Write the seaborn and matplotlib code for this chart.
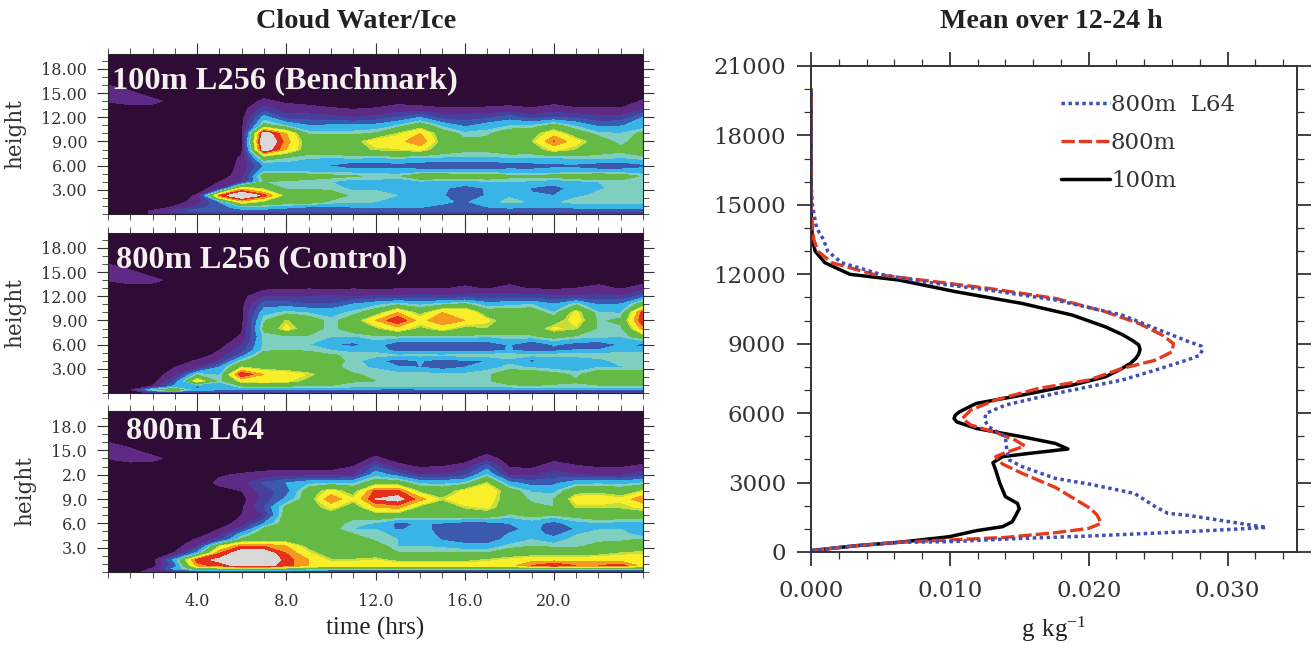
import numpy as np
import seaborn as sns
import matplotlib.pyplot as plt
from matplotlib.colors import ListedColormap, BoundaryNorm
from matplotlib.ticker import MultipleLocator

# contour panels: band index at each hour / height
hours = list(range(25))
heights = [0, 0.4, 0.8, 1.5, 2.3, 3.2, 4, 4.7, 5.3, 6, 7, 8, 9, 10, 11, 12, 13, 14, 15, 16, 20]

bench = [
    [0, 0, .6, 1, 1, 1, 1, 1, 1, 1, 1, 1, 1, 1, 1, 1, 1, 1, 1, 1, 1, 1, 1, 1, 1],
    [0, 0, .6, 2, 3, 3, 3, 3, 3, 3, 3, 3, 3, 3, 3, 3, 3, 3, 3, 3, 3, 3, 3, 3, 3],
    [0, 0, 0, .7, 2, 3, 4, 4, 3.6, 3.2, 3, 3.4, 3.5, 3.5, 3.5, 3.2, 3, 3.4, 3.6, 3.5, 3.5, 3.6, 3.6, 3.6, 3.6],
    [0, 0, 0, 0, 1, 3.5, 8, 6.5, 6, 5.8, 5, 4.8, 4.6, 4.5, 4.5, 3.7, 3.3, 4.3, 4.8, 4.5, 4.4, 5, 5, 5, 5],
    [0, 0, 0, 0, .6, 9.5, 12.5, 10, 6.3, 6.6, 5.8, 5, 4.8, 4.6, 4.5, 3.6, 2.8, 3.6, 4.5, 3.6, 3.5, 4.4, 4.8, 4.9, 5],
    [0, 0, 0, 0, 0, 1, 8, 6.5, 5, 5, 4.9, 4.4, 4.5, 4.5, 4.4, 3.7, 3, 3.6, 4.5, 3.4, 3, 4, 4.5, 4.8, 4.8],
    [0, 0, 0, 0, 0, .5, 1.5, 5.2, 5, 4.8, 4.6, 4, 4.3, 4, 4.4, 4, 4.2, 4.5, 4.6, 4.4, 4, 4.3, 4.6, 4.8, 4.8],
    [0, 0, 0, 0, 0, 0, 1, 6, 6, 5.8, 5.5, 5.3, 5, 5, 6.2, 6.3, 5.8, 6, 5.5, 5.5, 5.6, 6, 6.2, 6, 5],
    [0, 0, 0, 0, 0, 0, .8, 4.5, 4.6, 4.4, 4.3, 4.2, 4.2, 4, 4, 4, 4, 4, 4, 3.8, 4, 4, 4, 4, 4],
    [0, 0, 0, 0, 0, 0, .7, 3.6, 4, 3.8, 3.4, 2.6, 2.6, 3, 2.7, 2.6, 2.4, 2.5, 2.8, 3, 3.2, 3.2, 2.7, 2.7, 3.2],
    [0, 0, 0, 0, 0, 0, .6, 6, 5.2, 4.7, 4.6, 4.8, 4.6, 4.8, 4.5, 4.5, 4.4, 4.4, 4.6, 4.5, 4.6, 4.8, 5, 4.6, 5],
    [0, 0, 0, 0, 0, 0, .3, 11.5, 8.5, 6, 6, 6.5, 7, 7.2, 7.6, 6, 5.5, 5.5, 6, 6, 7.6, 6.8, 5.5, 5.5, 6],
    [0, 0, 0, 0, 0, 0, .2, 12.5, 9, 6, 6.8, 6.2, 8, 8, 9.5, 6.2, 5.5, 5.5, 6.2, 6.8, 9.6, 7.7, 6, 4.8, 6],
    [0, 0, 0, 0, 0, 0, .2, 11.5, 8.5, 5, 5, 5, 5.3, 7, 8.5, 6, 4.8, 5, 6, 6.2, 8, 6, 4.8, 4.6, 5.5],
    [0, 0, 0, 0, 0, 0, .2, 5.6, 4.5, 3.5, 3.6, 3.6, 3.8, 4.6, 6, 4.3, 3.2, 4, 4.5, 4.6, 5.6, 4.4, 3.2, 3.4, 4],
    [0, 0, 0, 0, 0, 0, .1, 4, 2, 2, 1.8, 1.5, 1.8, 2.5, 3.5, 2, 2, 2.2, 3, 2, 2.5, 2.2, 1.8, 1.8, 3.5],
    [0, 0, 0, 0, 0, 0, 0, 2, 1, .8, .6, .5, .6, .9, .8, .6, .6, .7, .8, .6, .9, .6, .6, .6, 1.5],
    [.55, .9, .8, .1, 0, 0, 0, .7, .3, .2, .1, 0, 0, .2, .1, .1, 0, 0, .1, 0, .2, .1, 0, 0, .6],
    [1, .7, 0, 0, 0, 0, 0, 0, 0, 0, 0, 0, 0, 0, 0, 0, 0, 0, 0, 0, 0, 0, 0, 0, 0],
    [.5, 0, 0, 0, 0, 0, 0, 0, 0, 0, 0, 0, 0, 0, 0, 0, 0, 0, 0, 0, 0, 0, 0, 0, 0],
    [0, 0, 0, 0, 0, 0, 0, 0, 0, 0, 0, 0, 0, 0, 0, 0, 0, 0, 0, 0, 0, 0, 0, 0, 0],
]

control = [
    [0, 0, .7, 1, 1, 1, 1, 1, 1, 1, 1, 1, 1, 1, 1, 1, 1, 1, 1, 1, 1, 1, 1, 1, 1],
    [0, .3, 5, 6, 4, 3.6, 3.6, 3.6, 3.6, 3.4, 3.4, 3.2, 3.2, 3, 3.2, 3.4, 3.4, 3.2, 3.2, 3.4, 3.4, 3.4, 3.4, 3.4, 3.4],
    [0, 0, .6, 4, 3, 3.6, 5, 5, 5, 5, 5, 4.8, 4.6, 4.6, 4.6, 4.6, 4.6, 4.6, 4.8, 5, 5, 5, 5, 5, 5],
    [0, 0, 0, 2.5, 8, 4.8, 7.5, 8, 7.5, 6.5, 6, 5.3, 5.2, 5, 5, 5, 5.2, 5, 6, 6.2, 5.5, 5.3, 5.8, 6, 6],
    [0, 0, 0, 1, 5, 4.5, 10.5, 8.5, 8, 7.2, 6, 5.3, 5, 5, 5, 4.8, 4.8, 5, 6, 6, 5.6, 5, 6, 6, 6],
    [0, 0, 0, .5, 1.2, 3.5, 7, 6.2, 6, 5.8, 5.5, 4.8, 4.5, 3.6, 3.5, 3, 3.5, 4.3, 4.8, 4.5, 4.2, 4, 4.6, 4.5, 4.6],
    [0, 0, 0, 0, .6, 1.5, 5, 6, 6, 6, 5.5, 5, 3.8, 3, 3.6, 3, 3.4, 3.5, 4.4, 3.2, 3.8, 3.6, 4.2, 5, 5],
    [0, 0, 0, 0, 0, .8, 3, 6, 6, 6, 5.3, 5, 5, 4.6, 4.8, 4.6, 5, 5, 5, 4.8, 5, 5, 5.2, 5.2, 5.2],
    [0, 0, 0, 0, 0, .5, 2, 5, 5.2, 5, 4.6, 4.2, 4.2, 3, 3, 3, 3, 3, 3.6, 3, 3.2, 3.6, 3.6, 4, 4],
    [0, 0, 0, 0, 0, 0, 1.5, 4.8, 4.6, 4.6, 3.6, 3.2, 4, 2.6, 2.5, 2.6, 2.4, 2.8, 3.6, 2.4, 3.6, 3, 2.7, 3.6, 3.2],
    [0, 0, 0, 0, 0, 0, .6, 4.8, 5, 5, 4.6, 4.5, 5, 5, 5, 5, 5, 4.6, 5, 5, 5.6, 5, 4.8, 4.6, 6],
    [0, 0, 0, 0, 0, 0, .4, 5.5, 7.6, 6, 4.8, 6, 6.6, 8, 6.5, 7.6, 6.4, 6.8, 6, 6, 7.5, 7, 5, 5, 9],
    [0, 0, 0, 0, 0, 0, .2, 5, 7, 6, 4.8, 6, 8.5, 10.5, 8, 9.5, 8.5, 7.5, 6, 6, 6, 8, 5, 5.5, 10.5],
    [0, 0, 0, 0, 0, 0, .2, 4.2, 4.8, 4.5, 4.2, 4.8, 6, 8.5, 6.3, 8.5, 8.5, 6, 6, 6, 4.6, 7.6, 4.6, 4.5, 10],
    [0, 0, 0, 0, 0, 0, .2, 3, 3, 2.6, 2.6, 3.6, 4.3, 5, 4.4, 5, 5.5, 4, 4.3, 4.6, 3.6, 5, 3.4, 3.6, 6],
    [0, 0, 0, 0, 0, 0, .1, 1.5, 1.5, 1.5, 1.6, 1.5, 1.6, 1.6, 1.8, 1.6, 1.8, 2, 1.8, 1.9, 1.7, 1.6, 1.8, 1.6, 3],
    [0, 0, 0, 0, 0, 0, 0, .2, .3, .4, .3, .4, .3, .4, .5, .4, .7, .4, .8, .4, .3, .5, .8, .4, .9],
    [.55, .9, .8, .1, 0, 0, 0, 0, 0, 0, 0, 0, 0, 0, 0, 0, 0, 0, .1, 0, 0, 0, .1, 0, .1],
    [1, .7, 0, 0, 0, 0, 0, 0, 0, 0, 0, 0, 0, 0, 0, 0, 0, 0, 0, 0, 0, 0, 0, 0, 0],
    [.5, 0, 0, 0, 0, 0, 0, 0, 0, 0, 0, 0, 0, 0, 0, 0, 0, 0, 0, 0, 0, 0, 0, 0, 0],
    [0, 0, 0, 0, 0, 0, 0, 0, 0, 0, 0, 0, 0, 0, 0, 0, 0, 0, 0, 0, 0, 0, 0, 0, 0],
]

l64 = [
    [0, 0, 1, 1, 1, 1, 1, 1, 1, 1, 1, 1, 1, 1, 1, 1, 1, 1, 1, 1, 1, 1, 1, 1, 1],
    [0, 0, .6, 4, 6, 6, 6, 6, 6, 5.5, 5, 5, 5, 5, 5, 5, 5, 5, 5, 5, 5, 5, 5, 5, 5],
    [0, 0, 0, 3, 9, 10, 11, 11, 10, 8.5, 8, 8, 8.5, 8, 8, 8, 8, 8, 8, 9.5, 10.5, 9.5, 9.5, 10, 8],
    [0, 0, 0, 4, 10, 10.8, 12, 12, 10, 8.5, 7, 7, 7.3, 6.5, 6.5, 6.5, 6.5, 7, 7.5, 8, 8, 8, 8, 8, 8],
    [0, 0, 0, .6, 4, 9.5, 11.5, 11.5, 9.5, 7.5, 6, 6, 6, 5.3, 5.3, 5.3, 5.3, 5.3, 6, 6.2, 6.2, 6.2, 6.5, 7, 7.2],
    [0, 0, 0, 0, 1.5, 7, 9.5, 9.5, 8.5, 6.4, 6, 6, 5.8, 4.6, 4.6, 4.4, 4, 4, 4.8, 5.2, 5, 5, 5.5, 5.8, 6],
    [0, 0, 0, 0, .6, 2, 5.5, 6, 6, 6, 6, 6, 5, 4.6, 4.5, 3.4, 2.8, 2.7, 4, 4.6, 4, 5, 5, 5, 5.3],
    [0, 0, 0, 0, 0, 1, 4, 6, 6.2, 6.3, 6, 5.2, 5, 4.2, 4.4, 3, 2.6, 2.5, 3.6, 4.2, 3, 4.5, 5, 5, 4],
    [0, 0, 0, 0, 0, .5, 2, 5.5, 6, 6, 5.5, 4.6, 4.6, 3.3, 4, 3, 2.7, 2.5, 3, 4, 2.6, 3.6, 4.5, 4.6, 3.6],
    [0, 0, 0, 0, 0, 0, .9, 3.5, 6, 6, 5.8, 4.8, 4.5, 3.2, 3.6, 3.4, 2.9, 3, 3.5, 4, 3, 4.2, 4.5, 4.2, 4.2],
    [0, 0, 0, 0, 0, 0, .5, 1.5, 6, 6, 6, 5.6, 6, 6, 6, 6, 6, 6, 5, 5.5, 5.2, 5.6, 6, 6, 6],
    [0, 0, 0, 0, 0, 0, .3, 2.5, 5.5, 6, 7.6, 6, 8.5, 9, 6.5, 6, 7, 7.5, 6, 5.5, 5.2, 7, 7, 7, 7.5],
    [0, 0, 0, 0, 0, 0, .1, 1.8, 3.8, 6, 9.5, 7.4, 10.5, 11, 9, 7, 8.5, 8, 6, 5, 5.2, 7.8, 8, 7.5, 9.5],
    [0, 0, 0, 0, 0, .2, .5, 2, 3, 6, 7.6, 6.2, 9.8, 9.8, 6.5, 6, 7.5, 8.5, 5.8, 4.5, 4.3, 6.3, 6.5, 6, 7],
    [0, 0, 0, 0, 0, .7, 1, 2.6, 3.5, 4.3, 4.5, 4.4, 6, 6, 4.3, 4.3, 4.6, 7, 3.8, 3, 3.2, 4.2, 4.3, 4.2, 4.6],
    [0, 0, 0, 0, 0, .4, .6, .9, 1, 1, 1, 1.3, 4.2, 3, 1.5, 1.5, 2.2, 4.6, 1.2, 1.2, 2, 1.5, 1.3, 1.3, 2],
    [0, 0, 0, 0, 0, 0, 0, 0, 0, 0, 0, .5, 2.6, .8, .4, .5, .9, 3, .4, .3, 1, .6, .4, .4, .7],
    [.55, .9, .8, .1, 0, 0, 0, 0, 0, 0, 0, 0, .7, .1, 0, 0, 0, 1, 0, 0, .2, 0, 0, 0, 0],
    [1, .7, 0, 0, 0, 0, 0, 0, 0, 0, 0, 0, 0, 0, 0, 0, 0, 0, 0, 0, 0, 0, 0, 0, 0],
    [.5, 0, 0, 0, 0, 0, 0, 0, 0, 0, 0, 0, 0, 0, 0, 0, 0, 0, 0, 0, 0, 0, 0, 0, 0],
    [0, 0, 0, 0, 0, 0, 0, 0, 0, 0, 0, 0, 0, 0, 0, 0, 0, 0, 0, 0, 0, 0, 0, 0, 0],
]

panel_names = ["100m L256 (Benchmark)", "800m L256 (Control)", "800m L64"]
ylabels_a = ["3.00", "6.00", "9.00", "12.00", "15.00", "18.00"]
ylabels_b = ["3.0", "6.0", "9.0", "2.0", "15.0", "18.0"]
xlabels = ["4.0", "8.0", "12.0", "16.0", "20.0"]

band_edges = [-1, .5, 1.5, 2.5, 3.5, 4.6, 5.2, 6.9, 7.3, 8.5, 9.5, 10.5, 13]
band_colors = ["#2e0c35", "#5e2a85", "#46409c", "#3a5ab0", "#38b4e6", "#7fcfc0", "#65b945",
               "#c8dc3a", "#f8ee2a", "#f59a20", "#e5301c", "#d8d8d8"]

# mean profiles
black_x = [0, .0032, .00635, .00995, .0119, .0138, .0145, .0150, .01487, .0140, .0136, .0133, .0131, .0138, .0157,
           .0185, .0176, .0152, .0138, .0119, .0105, .0103, .0104, .0107, .0119, .0152, .0188, .0212, .0224, .0230,
           .0234, .0236, .0237, .0236, .0231, .0224, .0212, .0188, .0152, .0104, .00635, .0028, .001, .0003, .0001,
           .00005, 0, 0]
black_z = [60, 270, 420, 660, 920, 1095, 1310, 1870, 2100, 2390, 2970, 3540, 3860, 4120, 4260,
           4450, 4690, 4980, 5130, 5340, 5620, 5770, 5920, 6060, 6420, 6780, 7210, 7570, 7930, 8150,
           8370, 8560, 8755, 8950, 9160, 9400, 9730, 10240, 10740, 11250, 11750, 12000, 12500, 13000, 13500,
           14000, 15000, 20000]

red_x = [0, .0032, .0063, .00995, .0140, .0176, .0200, .0209, .0206, .0201, .0176, .0152, .0138, .0133, .0140,
         .0154, .0147, .0133, .0115, .0109, .0115, .0133, .0164, .0200, .0224, .0248, .0260, .0261, .0253, .0236,
         .0212, .0176, .0128, .0080, .0045, .0015, .0005, .0002, .0001, 0, 0]
red_z = [60, 270, 420, 520, 630, 835, 1020, 1240, 1600, 1890, 2790, 3400, 3800, 4120, 4290,
         4580, 4840, 5160, 5490, 5770, 6130, 6570, 7070, 7430, 7930, 8290, 8650, 9010, 9370, 9880,
         10380, 10960, 11390, 11750, 12000, 12500, 13000, 13500, 14000, 15000, 20000]

blue_x = [0, .0032, .0063, .00995, .0152, .0200, .0272, .0328, .0272, .0257, .0248, .0233, .0200, .0176, .0152,
          .0143, .0141, .0140, .0128, .0125, .0126, .0140, .0176, .0224, .0248, .0272, .0280, .0282, .0281, .0272,
          .0248, .0224, .0176, .0128, .0080, .0050, .0022, .0012, .0009, .0004, .0001, 0, 0]
blue_z = [60, 270, 420, 445, 590, 690, 880, 1060, 1580, 1670, 1960, 2530, 2940, 3180, 3690,
          3970, 4400, 4980, 5410, 5700, 5990, 6350, 6850, 7430, 7860, 8320, 8500, 8750, 8900, 9090,
          9660, 10240, 10890, 11320, 11680, 12000, 12500, 13000, 13500, 14000, 15000, 16000, 20000]
xticks_right = [0, .01, .02, .03]
xticklabels_right = ["0.000", "0.010", "0.020", "0.030"]
yticks_right = [0, 3000, 6000, 9000, 12000, 15000, 18000, 21000]

sns.set_theme(style="ticks")
plt.rcParams["mathtext.fontset"] = "custom"
plt.rcParams["mathtext.rm"] = "Liberation Serif"
W, H = 1313, 646
fig = plt.figure(figsize=(W / 100, H / 100), dpi=100, facecolor="white")


def px_axes(x0, y0, x1, y1):
    return fig.add_axes([x0 / W, 1 - y1 / H, (x1 - x0) / W, (y1 - y0) / H])


cmap = ListedColormap(band_colors)
norm = BoundaryNorm(band_edges, cmap.N)
grey = "#333333"


def draw_panel(ax, field, name, ylabels, tx, ty, label_x):
    ax.contourf(hours, heights, np.array(field), levels=band_edges, cmap=cmap, norm=norm)
    ax.set_xlim(0, 24)
    ax.set_ylim(0, 19.85)
    ax.set_xticks([4, 8, 12, 16, 20])
    ax.xaxis.set_minor_locator(MultipleLocator(1))
    ax.set_yticks([3, 6, 9, 12, 15, 18])
    ax.yaxis.set_minor_locator(MultipleLocator(1))
    ax.set_yticklabels(ylabels, family="DejaVu Serif", fontsize=11.5, color=grey)
    ax.set_xticklabels([])
    ax.tick_params(which="major", length=8, width=0.8, color=grey, top=True, right=True, pad=7)
    ax.tick_params(which="minor", length=4, width=0.6, color=grey, top=True, right=True)
    ax.set_ylabel("height", family="DejaVu Serif", fontsize=15.5, color=grey)
    ax.yaxis.set_label_coords(label_x, 0.5)
    ax.text(tx, ty, name, transform=ax.transAxes, color="#f4f0ee", family="Liberation Serif",
            weight="bold", fontsize=23.3, va="center")
    for s in ax.spines.values():
        s.set_linewidth(0.8)


ax1 = px_axes(108, 54, 643, 214)
ax2 = px_axes(108, 233, 643, 393)
ax3 = px_axes(108, 411, 643, 572)
draw_panel(ax1, bench, panel_names[0], ylabels_a, 0.008, 0.83, -0.153)
draw_panel(ax2, control, panel_names[1], ylabels_a, 0.015, 0.83, -0.153)
draw_panel(ax3, l64, panel_names[2], ylabels_b, 0.033, 0.87, -0.135)
ax3.set_xticklabels(xlabels, family="DejaVu Serif", fontsize=11.5, color=grey)
ax3.tick_params(axis="x", which="major", length=6, pad=9)
ax3.set_xlabel("time (hrs)", family="Liberation Serif", fontsize=18, color="#222222", labelpad=5)

# right panel
ax4 = px_axes(811, 66, 1297, 552)
sns.lineplot(x=black_x, y=black_z, sort=False, estimator=None, ax=ax4, color="black", lw=2.5, label="100m")
sns.lineplot(x=red_x, y=red_z, sort=False, estimator=None, ax=ax4, color="#e63a1e", lw=2.4,
             linestyle=(0, (4, 1.2)), label="800m")
sns.lineplot(x=blue_x, y=blue_z, sort=False, estimator=None, ax=ax4, color="#3f4fb5", lw=2.5,
             linestyle=(0, (1, 1)), label="800m  L64")
ax4.set_xlim(0, 0.035)
ax4.set_ylim(0, 21000)
ax4.set_xticks(xticks_right)
ax4.set_xticklabels(xticklabels_right, family="DejaVu Serif", fontsize=16.5, color=grey)
ax4.xaxis.set_minor_locator(MultipleLocator(0.002))
ax4.set_yticks(yticks_right)
ax4.set_yticklabels([str(v) for v in yticks_right], family="DejaVu Serif", fontsize=16.5, color=grey)
ax4.yaxis.set_minor_locator(MultipleLocator(1000))
ax4.tick_params(which="major", length=10, width=1.3, color=grey, top=True, right=True, pad=8)
ax4.tick_params(axis="x", which="major", pad=10)
ax4.tick_params(which="minor", length=5, width=0.9, color=grey, top=True, right=True)
for s in ax4.spines.values():
    s.set_linewidth(1.4)
    s.set_color(grey)
ax4.set_xlabel(r"$\mathrm{g\ kg^{-1}}$", family="Liberation Serif", fontsize=18, color="#222222", labelpad=9)

handles, labels = ax4.get_legend_handles_labels()
leg = ax4.legend(handles[::-1], labels[::-1], loc="upper left", bbox_to_anchor=(0.471, 0.985), frameon=False,
                 handlelength=2.15, handletextpad=0.05, labelspacing=0.7,
                 prop={"family": "DejaVu Serif", "size": 16.5})
for t in leg.get_texts():
    t.set_color(grey)

fig.text(356 / W, 1 - 21 / H, "Cloud Water/Ice", family="Liberation Serif", weight="bold", fontsize=20.3,
         ha="center", va="center", color="#222222")
fig.text(1051 / W, 1 - 21 / H, "Mean over 12-24 h", family="Liberation Serif", weight="bold", fontsize=20.2,
         ha="center", va="center", color="#222222")

fig.savefig("out.png", dpi=100)
